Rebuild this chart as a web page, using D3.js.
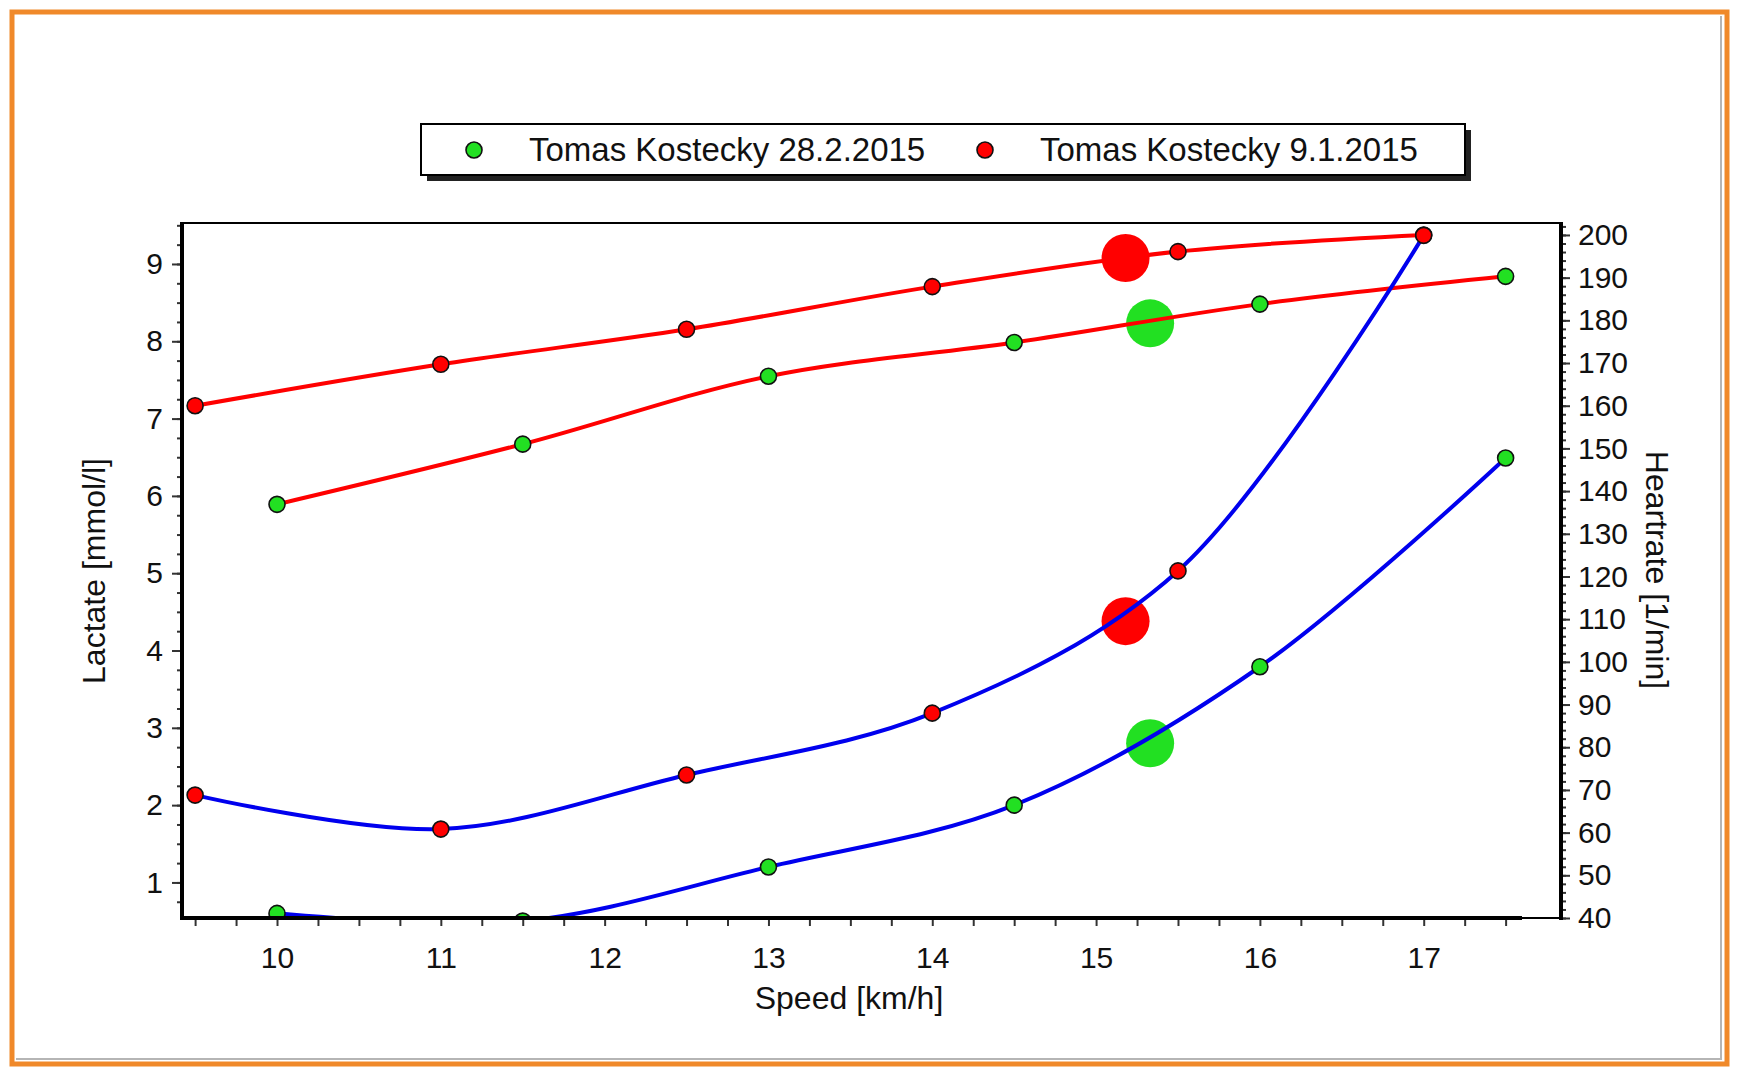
<!DOCTYPE html>
<html>
<head>
<meta charset="utf-8">
<script src="https://cdn.jsdelivr.net/npm/d3@7"></script>
<style>
  body { margin: 0; background: #fff; }
  svg text { font-family: "Liberation Sans", Arial, sans-serif; fill: #111; }
</style>
</head>
<body>
<div id="chart"></div>
<script>
// data
const speedA = [10, 11.5, 13, 14.5, 16, 17.5];            // 28.2.2015
const lactateA = [0.6, 0.5, 1.2, 2.0, 3.79, 6.49];
const heartA = [136.9, 151, 166.9, 174.8, 183.8, 190.3];

const speedB = [9.5, 11, 12.5, 14, 15.5, 17];             // 9.1.2015
const lactateB = [2.13, 1.69, 2.39, 3.19, 5.03, 9.37];
const heartB = [160, 169.7, 177.9, 187.9, 196.1, 200];

// threshold points (big dots)
const thrSpeed = [15.33, 15.18];
const thrLactate = [2.8, 4.38];
const thrHeart = [179.3, 194.6];

const seriesNames = ["Tomas Kostecky 28.2.2015", "Tomas Kostecky 9.1.2015"];
const seriesColors = ["#22e022", "#ff0000"];

const W = 1738, H = 1068;
const plot = { left: 182, right: 1561, top: 223, bottom: 918, xEnd: 1522 };

const svg = d3.select("#chart").append("svg")
  .attr("width", W).attr("height", H);

// orange frame
svg.append("rect")
  .attr("x", 12).attr("y", 12).attr("width", 1715).attr("height", 1052)
  .attr("fill", "none").attr("stroke", "#f0892a").attr("stroke-width", 5);
svg.append("path")
  .attr("d", `M1721,16V1059H16`)
  .attr("fill", "none").attr("stroke", "#b5b5b5").attr("stroke-width", 2);

const x = d3.scaleLinear().domain([9.42, 17.6]).range([plot.left, plot.xEnd]);
const yL = d3.scaleLinear().domain([0.54, 9.53]).range([plot.bottom, plot.top]);
const yR = d3.scaleLinear().domain([40, 202.8]).range([plot.bottom, plot.top]);

// axes
const fmtInt = (d) => (Number.isInteger(d) ? d : "");

const gLeft = svg.append("g").attr("transform", `translate(${plot.left},0)`);
gLeft.call(d3.axisLeft(yL).tickValues(d3.range(0.75, 9.51, 0.25)).tickSize(5).tickFormat(""));
gLeft.append("g").call(d3.axisLeft(yL).tickValues(d3.range(1, 10)).tickSize(10).tickPadding(9));

const gRight = svg.append("g").attr("transform", `translate(${plot.right},0)`);
gRight.call(d3.axisRight(yR).tickValues(d3.range(40, 203, 2)).tickSize(5).tickFormat(""));
gRight.append("g").call(d3.axisRight(yR).tickValues(d3.range(40, 201, 10)).tickSize(9).tickPadding(8));

const gBottom = svg.append("g").attr("transform", `translate(0,${plot.bottom})`);
gBottom.call(d3.axisBottom(x).tickValues(d3.range(9.5, 17.51, 0.25)).tickSize(8)
  .tickPadding(21).tickFormat(fmtInt));

svg.selectAll(".domain").remove();
svg.selectAll(".tick line").attr("stroke", "#333").attr("stroke-width", 2);
svg.selectAll(".tick text").attr("font-size", 30).attr("fill", "#111");

// plot frame
svg.append("line").attr("x1", plot.left).attr("x2", plot.right)
  .attr("y1", plot.top).attr("y2", plot.top).attr("stroke", "#000").attr("stroke-width", 2);
svg.append("line").attr("x1", plot.left).attr("x2", plot.xEnd)
  .attr("y1", plot.bottom).attr("y2", plot.bottom).attr("stroke", "#000").attr("stroke-width", 4);
svg.append("line").attr("x1", plot.xEnd).attr("x2", plot.right)
  .attr("y1", plot.bottom).attr("y2", plot.bottom).attr("stroke", "#000").attr("stroke-width", 2);
svg.append("line").attr("x1", plot.left).attr("x2", plot.left)
  .attr("y1", plot.top - 1).attr("y2", plot.bottom + 2).attr("stroke", "#000").attr("stroke-width", 4);
svg.append("line").attr("x1", plot.right).attr("x2", plot.right)
  .attr("y1", plot.top - 1).attr("y2", plot.bottom + 2).attr("stroke", "#000").attr("stroke-width", 4);

// axis titles
svg.append("text").attr("transform", `translate(94,571) rotate(-90)`)
  .attr("text-anchor", "middle").attr("dy", "0.35em").attr("font-size", 32)
  .text("Lactate [mmol/l]");
svg.append("text").attr("transform", `translate(1657,570) rotate(90)`)
  .attr("text-anchor", "middle").attr("dy", "0.35em").attr("font-size", 32)
  .text("Heartrate [1/min]");
svg.append("text").attr("x", 849).attr("y", 1009)
  .attr("text-anchor", "middle").attr("font-size", 32)
  .text("Speed [km/h]");

// clip
svg.append("clipPath").attr("id", "clip").append("rect")
  .attr("x", plot.left + 2).attr("y", plot.top + 1)
  .attr("width", plot.right - plot.left - 4).attr("height", plot.bottom - plot.top - 3);

const g = svg.append("g").attr("clip-path", "url(#clip)");

// big threshold dots
const thr = thrSpeed.map((s, i) => ({ s, l: thrLactate[i], h: thrHeart[i], c: seriesColors[i] }));
g.selectAll(".thrL").data(thr).join("circle")
  .attr("cx", (d) => x(d.s)).attr("cy", (d) => yL(d.l)).attr("r", 24).attr("fill", (d) => d.c);
g.selectAll(".thrH").data(thr).join("circle")
  .attr("class", "thrH")
  .attr("cx", (d) => x(d.s)).attr("cy", (d) => yR(d.h)).attr("r", 24).attr("fill", (d) => d.c);

const series = [
  { speed: speedA, lactate: lactateA, heart: heartA, color: seriesColors[0] },
  { speed: speedB, lactate: lactateB, heart: heartB, color: seriesColors[1] },
];

const curve = d3.curveCatmullRom.alpha(0.5);
const lineL = d3.line().curve(curve).x((d) => x(d[0])).y((d) => yL(d[1]));
const lineH = d3.line().curve(curve).x((d) => x(d[0])).y((d) => yR(d[1]));

series.forEach((s) => {
  const pl = s.speed.map((v, i) => [v, s.lactate[i]]);
  const ph = s.speed.map((v, i) => [v, s.heart[i]]);
  g.append("path").attr("d", lineL(pl)).attr("fill", "none")
    .attr("stroke", "#0000ee").attr("stroke-width", 4).attr("stroke-linejoin", "round");
  g.append("path").attr("d", lineH(ph)).attr("fill", "none")
    .attr("stroke", "#ff0000").attr("stroke-width", 4).attr("stroke-linejoin", "round");
});

series.forEach((s) => {
  const pts = s.speed.map((v, i) => ({ x: v, l: s.lactate[i], h: s.heart[i] }));
  g.append("g").selectAll("circle").data(pts).join("circle")
    .attr("cx", (d) => x(d.x)).attr("cy", (d) => yR(d.h)).attr("r", 8)
    .attr("fill", s.color).attr("stroke", "#111").attr("stroke-width", 1.6);
  g.append("g").selectAll("circle").data(pts).join("circle")
    .attr("cx", (d) => x(d.x)).attr("cy", (d) => yL(d.l)).attr("r", 8)
    .attr("fill", s.color).attr("stroke", "#111").attr("stroke-width", 1.6);
});

// legend
const leg = svg.append("g");
leg.append("rect").attr("x", 427).attr("y", 130).attr("width", 1044).attr("height", 51)
  .attr("fill", "#222");
leg.append("rect").attr("x", 421).attr("y", 124).attr("width", 1044).attr("height", 51)
  .attr("fill", "#fff").attr("stroke", "#000").attr("stroke-width", 2);
const legX = [474, 985];
seriesNames.forEach((name, i) => {
  leg.append("circle").attr("cx", legX[i]).attr("cy", 150).attr("r", 8)
    .attr("fill", seriesColors[i]).attr("stroke", "#111").attr("stroke-width", 1.6);
  leg.append("text").attr("x", legX[i] + 55).attr("y", 161).attr("font-size", 33)
    .text(name);
});
</script>
</body>
</html>
